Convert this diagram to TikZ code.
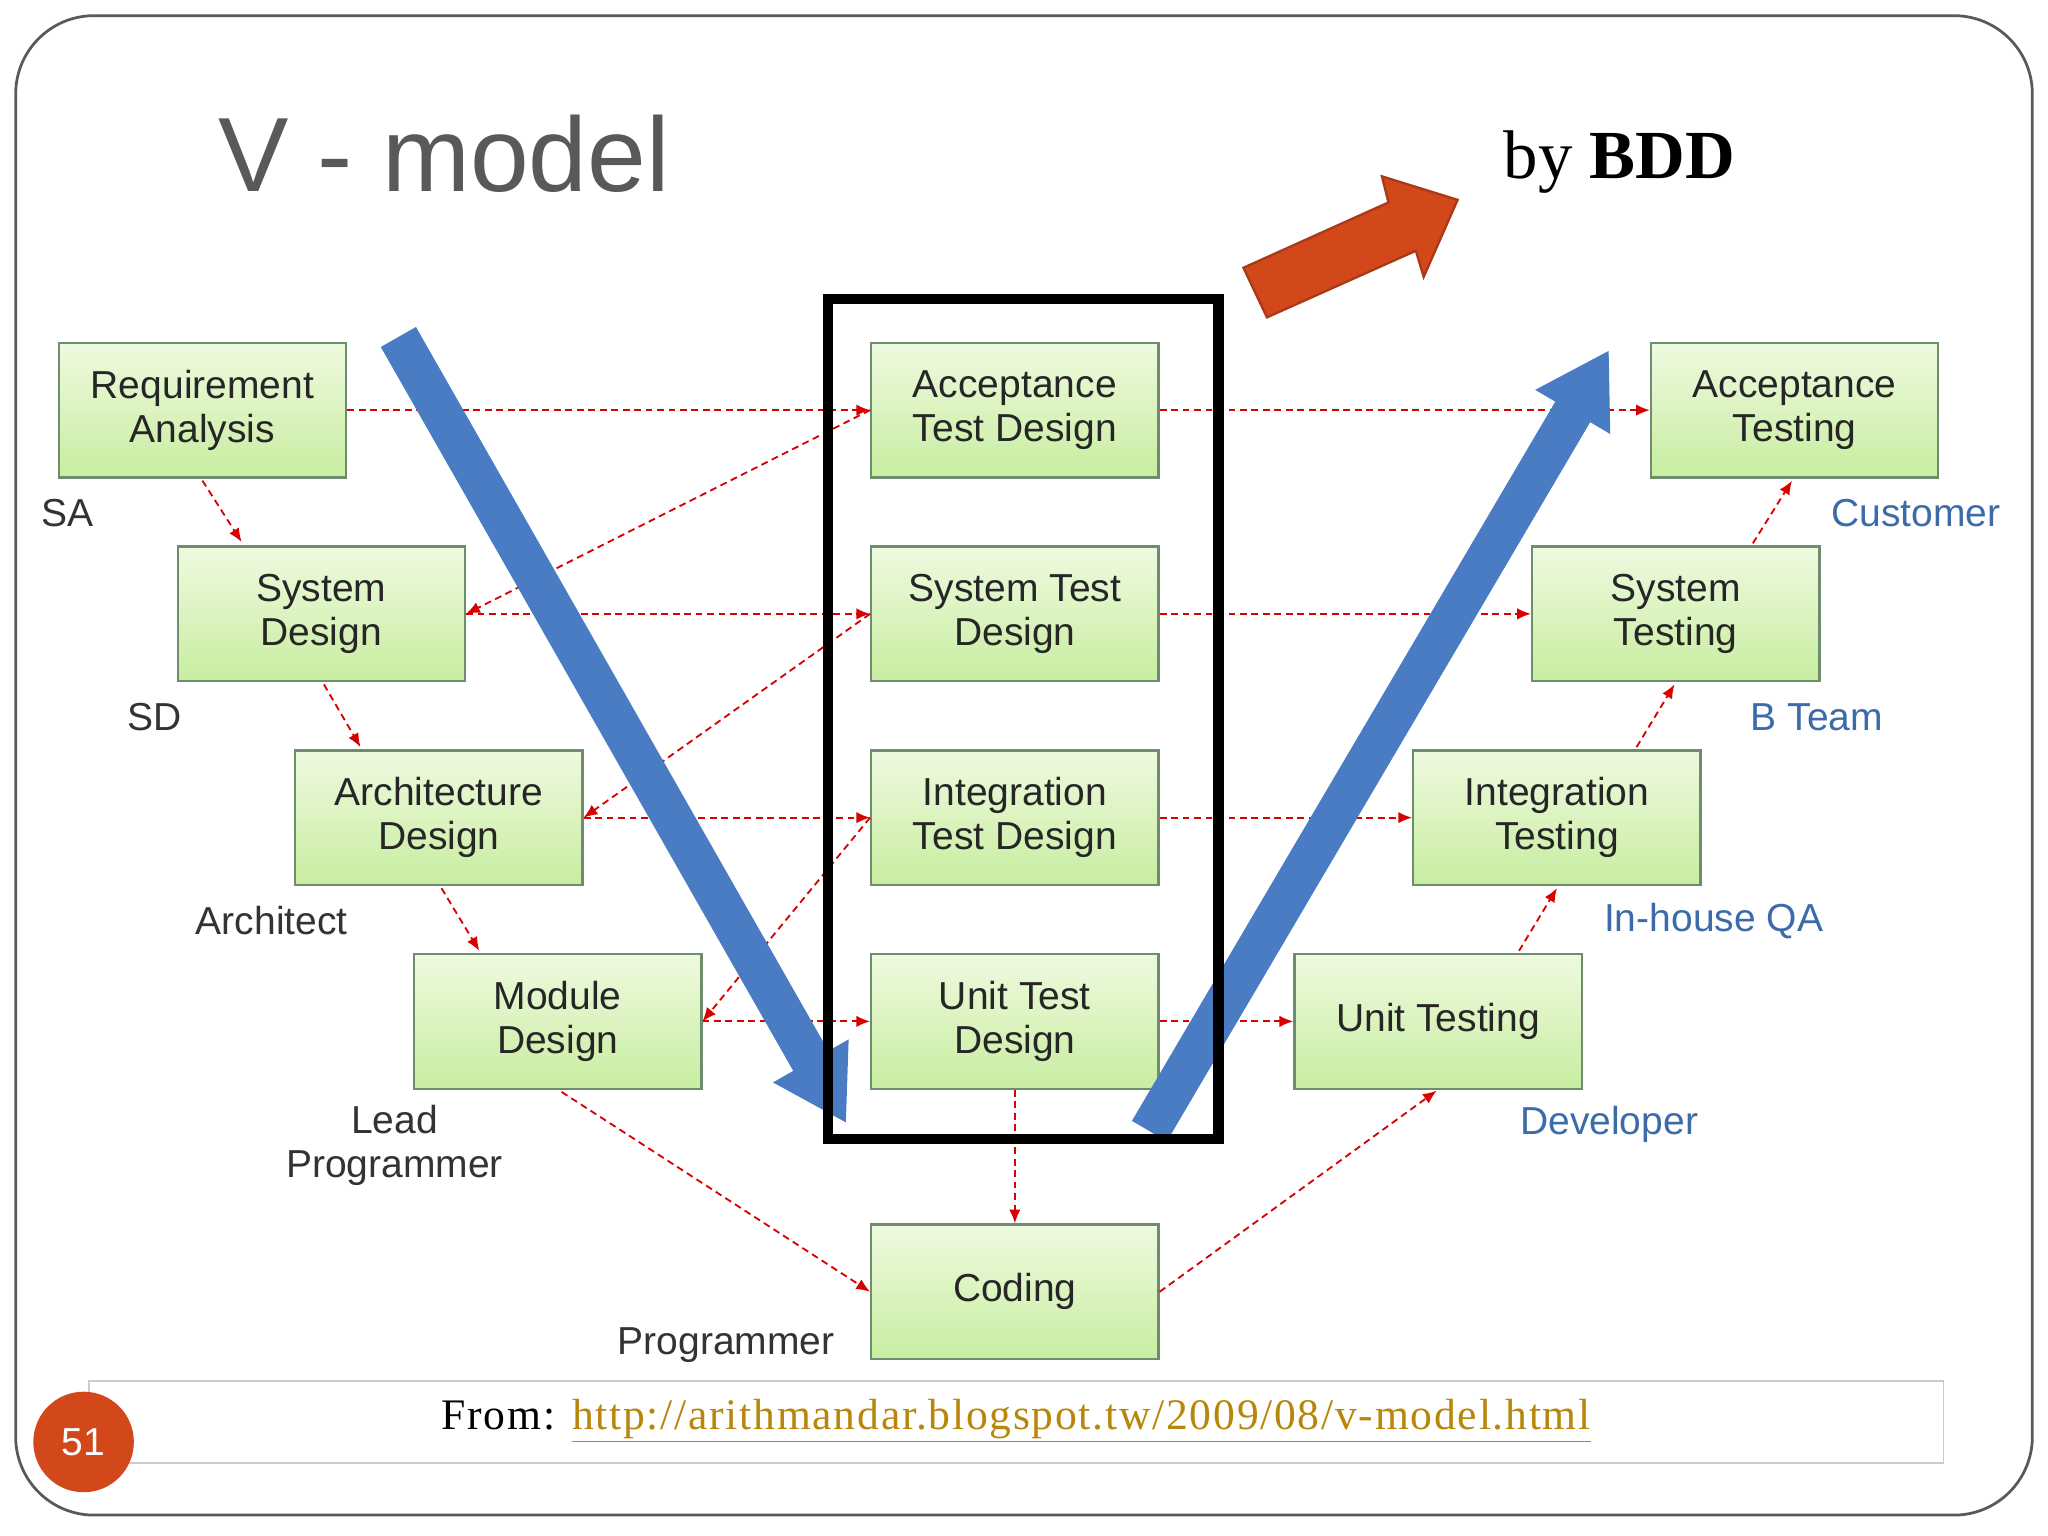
\documentclass[tikz,border=0pt]{standalone}
\usepackage{fontspec}
\setmainfont{Liberation Sans}
\newfontfamily\serif{Liberation Serif}[LetterSpace=4]
\newfontfamily\serifb{Liberation Serif}
\usetikzlibrary{arrows.meta}
\definecolor{boxg}{HTML}{C8EDA0}
\definecolor{boxl}{HTML}{EEFADF}
\definecolor{boxb}{HTML}{6E8C6E}
\definecolor{lbl}{HTML}{3C6BAA}
\definecolor{vblue}{HTML}{4A7CC4}
\definecolor{org}{HTML}{D2481A}
\definecolor{gold}{HTML}{B8860B}
\begin{document}
\begin{tikzpicture}[x=0.02cm,y=-0.02cm,
 box/.style={draw=boxb,line width=1pt,top color=boxl,bottom color=boxg,shading angle=0,minimum width=4.4cm,minimum height=2.06cm,inner sep=0pt,align=center,font=\fontsize{17}{19}\selectfont,text=black!85},
 dep/.style={red!85!black,densely dashed,line width=0.8pt,-{Latex[length=6pt,width=5pt]}},
 role/.style={font=\fontsize{17}{19}\selectfont,text=black!80,align=center},
 brole/.style={font=\fontsize{17}{19}\selectfont,text=lbl}]
\useasboundingbox (0,0) rectangle (1568,1176);
\draw[gray!70!black,line width=1.2pt,rounded corners=1.2cm] (12,12) rectangle (1556,1160);
\node[text=black!65,font=\fontsize{46}{52}\selectfont] (title) at (340,118) {V - model};
\node[font=\serifb\fontsize{30}{34}\selectfont] (bdd) at (1240,124) {by \textbf{BDD}};
% boxes
\node[box] (ra) at (155,314) {Requirement\\Analysis};
\node[box] (sd) at (246,470) {System\\Design};
\node[box] (ad) at (336,626) {Architecture\\Design};
\node[box] (md) at (427,782) {Module\\Design};
\node[box] (atd) at (777,314) {Acceptance\\Test Design};
\node[box] (std) at (777,470) {System Test\\Design};
\node[box] (itd) at (777,626) {Integration\\Test Design};
\node[box] (utd) at (777,782) {Unit Test\\Design};
\node[box] (co) at (777,989) {Coding};
\node[box] (at) at (1374,314) {Acceptance\\Testing};
\node[box] (st) at (1283,470) {System\\Testing};
\node[box] (it) at (1192,626) {Integration\\Testing};
\node[box] (ut) at (1101,782) {Unit Testing};
% dependencies
\draw[dep] (ra) -- (atd); \draw[dep] (atd) -- (at);
\draw[dep] (sd) -- (std); \draw[dep] (std) -- (st);
\draw[dep] (ad) -- (itd); \draw[dep] (itd) -- (it);
\draw[dep] (md) -- (utd); \draw[dep] (utd) -- (ut);
\draw[dep] (atd.west) -- (sd.east);
\draw[dep] (std.west) -- (ad.east);
\draw[dep] (itd.west) -- (md.east);
\draw[dep] (155,368) -- (185,415);
\draw[dep] (248,524) -- (276,572);
\draw[dep] (338,680) -- (367,728);
\draw[dep] (1163,728) -- (1192,680);
\draw[dep] (1253,572) -- (1282,524);
\draw[dep] (1342,416) -- (1372,368);
\draw[dep] (utd) -- (co);
\draw[dep] (430,836) -- (co.west);
\draw[dep] (co.east) -- (1100,835);
% V arrows
\draw[vblue,line width=0.62cm,-{Triangle[length=1.1cm,width=1.25cm]}] (305,258) -- (648,860);
\draw[vblue,line width=0.62cm,-{Triangle[length=1.1cm,width=1.25cm]}] (880,866) -- (1232,268);
% black frame
\draw[black,line width=0.16cm] (634,229) rectangle (933,872);
% orange arrow
\draw[org!80!black,fill=org,line width=1pt]
 (952,205) -- (1063,155) -- (1058,135) -- (1116,153) -- (1090,212) -- (1084,192) -- (970,243) -- cycle;
% roles
\node[role] (r1) at (52,393) {SA};
\node[role] (r2) at (118,549) {SD};
\node[role] (r3) at (208,705) {Architect};
\node[role] (r4) at (302,877) {Lead\\Programmer};
\node[role] (r5) at (556,1030) {Programmer};
\node[brole] (b1) at (1467,393) {Customer};
\node[brole] (b2) at (1391,549) {B Team};
\node[brole] (b3) at (1312,705) {In-house QA};
\node[brole] (b4) at (1232,861) {Developer};
% footer
\draw[gray!40,line width=0.8pt] (68,1057) rectangle (1488,1120);
\node[font=\serif\fontsize{19}{21}\selectfont] (src) at (778,1088) {From: \textcolor{gold}{\underline{http://arithmandar.blogspot.tw/2009/08/v-model.html}}};
\node[circle,fill=org,minimum size=1.54cm,text=white,font=\fontsize{17}{19}\selectfont] (pg) at (64,1104) {51};
\end{tikzpicture}
\end{document}
